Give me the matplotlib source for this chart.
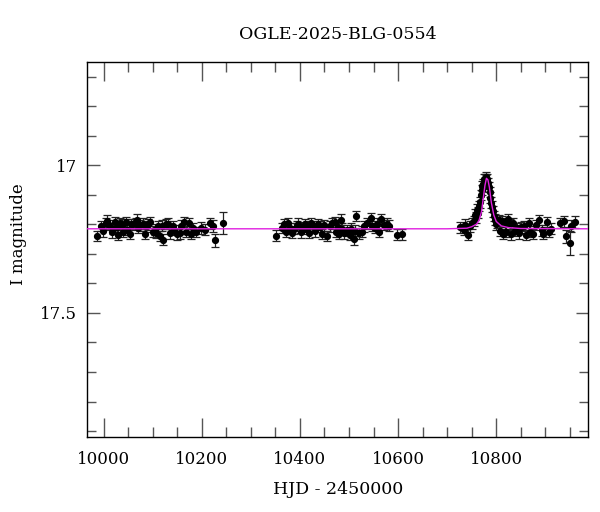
import numpy as np
import matplotlib
matplotlib.use('Agg')
from matplotlib import pyplot as plt
from matplotlib.ticker import MultipleLocator

# OGLE photometry: (HJD-2450000, I mag, error)
season1 = [
    (9987, 17.240, 0.018), (9995, 17.205, 0.017), (9999, 17.224, 0.019),
    (10004, 17.196, 0.018), (10007, 17.188, 0.020), (10011, 17.203, 0.017),
    (10016, 17.226, 0.019), (10019, 17.215, 0.018), (10024, 17.193, 0.019),
    (10028, 17.208, 0.017), (10030, 17.236, 0.018), (10033, 17.197, 0.018),
    (10038, 17.201, 0.019), (10040, 17.225, 0.018), (10045, 17.192, 0.018),
    (10048, 17.218, 0.018), (10053, 17.232, 0.019), (10055, 17.199, 0.018),
    (10060, 17.200, 0.018), (10065, 17.196, 0.018), (10067, 17.186, 0.020),
    (10070, 17.212, 0.018), (10075, 17.203, 0.018), (10080, 17.198, 0.018),
    (10084, 17.232, 0.018), (10087, 17.207, 0.018), (10090, 17.200, 0.018),
    (10094, 17.193, 0.018), (10100, 17.225, 0.018), (10104, 17.218, 0.018),
    (10107, 17.228, 0.019), (10111, 17.205, 0.018), (10114, 17.240, 0.018),
    (10118, 17.204, 0.018), (10121, 17.252, 0.018), (10126, 17.199, 0.018),
    (10131, 17.198, 0.019), (10136, 17.230, 0.018), (10141, 17.206, 0.018),
    (10144, 17.219, 0.018), (10150, 17.234, 0.018), (10155, 17.230, 0.019),
    (10158, 17.204, 0.018), (10163, 17.192, 0.018), (10168, 17.225, 0.018),
    (10173, 17.196, 0.018), (10178, 17.232, 0.018), (10183, 17.212, 0.018),
    (10188, 17.226, 0.018), (10199, 17.212, 0.019), (10206, 17.218, 0.018),
    (10216, 17.197, 0.020), (10222, 17.205, 0.020), (10227, 17.254, 0.022),
    (10243, 17.195, 0.036),
]

season2 = [
    (10351, 17.238, 0.018), (10363, 17.212, 0.018), (10368, 17.199, 0.018),
    (10371, 17.226, 0.018), (10375, 17.196, 0.019), (10380, 17.212, 0.018),
    (10383, 17.228, 0.018), (10388, 17.215, 0.018), (10393, 17.206, 0.018),
    (10395, 17.198, 0.018), (10400, 17.210, 0.018), (10403, 17.227, 0.018),
    (10408, 17.216, 0.018), (10410, 17.200, 0.018), (10415, 17.208, 0.018),
    (10418, 17.229, 0.018), (10423, 17.197, 0.018), (10428, 17.205, 0.018),
    (10431, 17.224, 0.018), (10436, 17.200, 0.018), (10441, 17.208, 0.018),
    (10444, 17.232, 0.018), (10449, 17.203, 0.018), (10456, 17.240, 0.018),
    (10462, 17.207, 0.018), (10465, 17.196, 0.018), (10471, 17.192, 0.018),
    (10474, 17.226, 0.018), (10477, 17.210, 0.018), (10479, 17.232, 0.018),
    (10483, 17.184, 0.018), (10486, 17.215, 0.018), (10489, 17.230, 0.018),
    (10495, 17.220, 0.018), (10501, 17.236, 0.018), (10504, 17.214, 0.018),
    (10510, 17.250, 0.020), (10512, 17.221, 0.018), (10515, 17.172, 0.018),
    (10521, 17.230, 0.018), (10527, 17.225, 0.018), (10530, 17.207, 0.018),
    (10537, 17.196, 0.018), (10544, 17.180, 0.018), (10547, 17.205, 0.018),
    (10553, 17.212, 0.018), (10556, 17.198, 0.018), (10562, 17.225, 0.018),
    (10566, 17.182, 0.018), (10572, 17.202, 0.018), (10578, 17.198, 0.018),
    (10581, 17.204, 0.018), (10598, 17.235, 0.019), (10607, 17.233, 0.019),
]

season3 = [
    (10727, 17.210, 0.018), (10734, 17.218, 0.018), (10737, 17.201, 0.018),
    (10743, 17.235, 0.018), (10746, 17.207, 0.018), (10751, 17.196, 0.018),
    (10754, 17.188, 0.018), (10756, 17.167, 0.018), (10758, 17.176, 0.018),
    (10760, 17.150, 0.018), (10762, 17.160, 0.018), (10764, 17.138, 0.018),
    (10766, 17.125, 0.018), (10768, 17.100, 0.018), (10770, 17.085, 0.017),
    (10772, 17.070, 0.017), (10773, 17.062, 0.017), (10775, 17.048, 0.017),
    (10777, 17.045, 0.017), (10779, 17.039, 0.017), (10780, 17.050, 0.017),
    (10782, 17.048, 0.017), (10783, 17.060, 0.017), (10785, 17.075, 0.017),
    (10787, 17.092, 0.017), (10788, 17.110, 0.018), (10790, 17.127, 0.018),
    (10791, 17.140, 0.018), (10793, 17.156, 0.018), (10795, 17.172, 0.018),
    (10797, 17.184, 0.018), (10799, 17.200, 0.018), (10801, 17.193, 0.018),
    (10805, 17.185, 0.018), (10807, 17.222, 0.018), (10811, 17.190, 0.018),
    (10813, 17.232, 0.018), (10817, 17.198, 0.018), (10819, 17.225, 0.018),
    (10823, 17.182, 0.018), (10828, 17.200, 0.018), (10830, 17.234, 0.018),
    (10835, 17.195, 0.018), (10838, 17.222, 0.018), (10843, 17.212, 0.018),
    (10846, 17.230, 0.018), (10851, 17.210, 0.018), (10857, 17.205, 0.018),
    (10860, 17.236, 0.018), (10866, 17.195, 0.018), (10869, 17.225, 0.018),
    (10875, 17.232, 0.018), (10881, 17.202, 0.018), (10887, 17.185, 0.018),
    (10893, 17.220, 0.018), (10896, 17.232, 0.018), (10904, 17.192, 0.018),
    (10908, 17.226, 0.018), (10912, 17.215, 0.018), (10930, 17.195, 0.018),
    (10938, 17.190, 0.018), (10943, 17.240, 0.022), (10950, 17.263, 0.040),
    (10953, 17.206, 0.020), (10961, 17.193, 0.020),
]

# model curve
model_t = [9967, 10700, 10740, 10750, 10760, 10765, 10770, 10774, 10777, 10780,
           10783, 10786, 10790, 10795, 10800, 10810, 10825, 10850, 10987]
model_m = [17.215, 17.215, 17.213, 17.208, 17.199, 17.186, 17.157, 17.106, 17.068, 17.044,
           17.049, 17.074, 17.126, 17.168, 17.190, 17.205, 17.211, 17.214, 17.215]

plt.rcParams['font.family'] = 'DejaVu Serif'

fig = plt.figure(figsize=(6.0, 5.12), dpi=100)
ax = fig.add_axes([0.1458, 0.1465, 0.8342, 0.7325])

for s in (season1, season2, season3):
    t, m, e = zip(*s)
    ax.errorbar(t, m, yerr=e, fmt='o', color='black', ms=4.2, elinewidth=0.9,
                capsize=3, capthick=0.9, ecolor='#222222', zorder=3)

ax.plot(model_t, model_m, color='#e020e0', lw=1.0, zorder=4)

ax.set_xlim(9967, 10987)
ax.set_ylim(17.92, 16.65)

ax.xaxis.set_major_locator(MultipleLocator(200))
ax.xaxis.set_minor_locator(MultipleLocator(50))
ax.yaxis.set_major_locator(MultipleLocator(0.5))
ax.yaxis.set_minor_locator(MultipleLocator(0.1))
ax.yaxis.set_major_formatter(plt.FuncFormatter(lambda v, p: '%g' % v))

ax.tick_params(which='both', direction='in', top=True, right=True, color='#555555', width=1.0)
ax.tick_params(axis='x', which='major', length=13.5, labelsize=12, pad=10)
ax.tick_params(axis='x', which='minor', length=7)
ax.tick_params(axis='y', which='major', length=9, labelsize=12, pad=7.5)
ax.tick_params(axis='y', which='minor', length=6.5)
for sp in ax.spines.values():
    sp.set_linewidth(1.0)

ax.set_xlabel('HJD - 2450000', fontsize=12.5)
ax.xaxis.set_label_coords(0.5, -0.117)
ax.set_ylabel('I magnitude', fontsize=12)
ax.yaxis.set_label_coords(-0.12, 0.54)
ax.text(0.5, 1.072, 'OGLE-2025-BLG-0554', transform=ax.transAxes, ha='center', va='center',
        fontsize=12.5)

plt.savefig('out.png', dpi=100)
